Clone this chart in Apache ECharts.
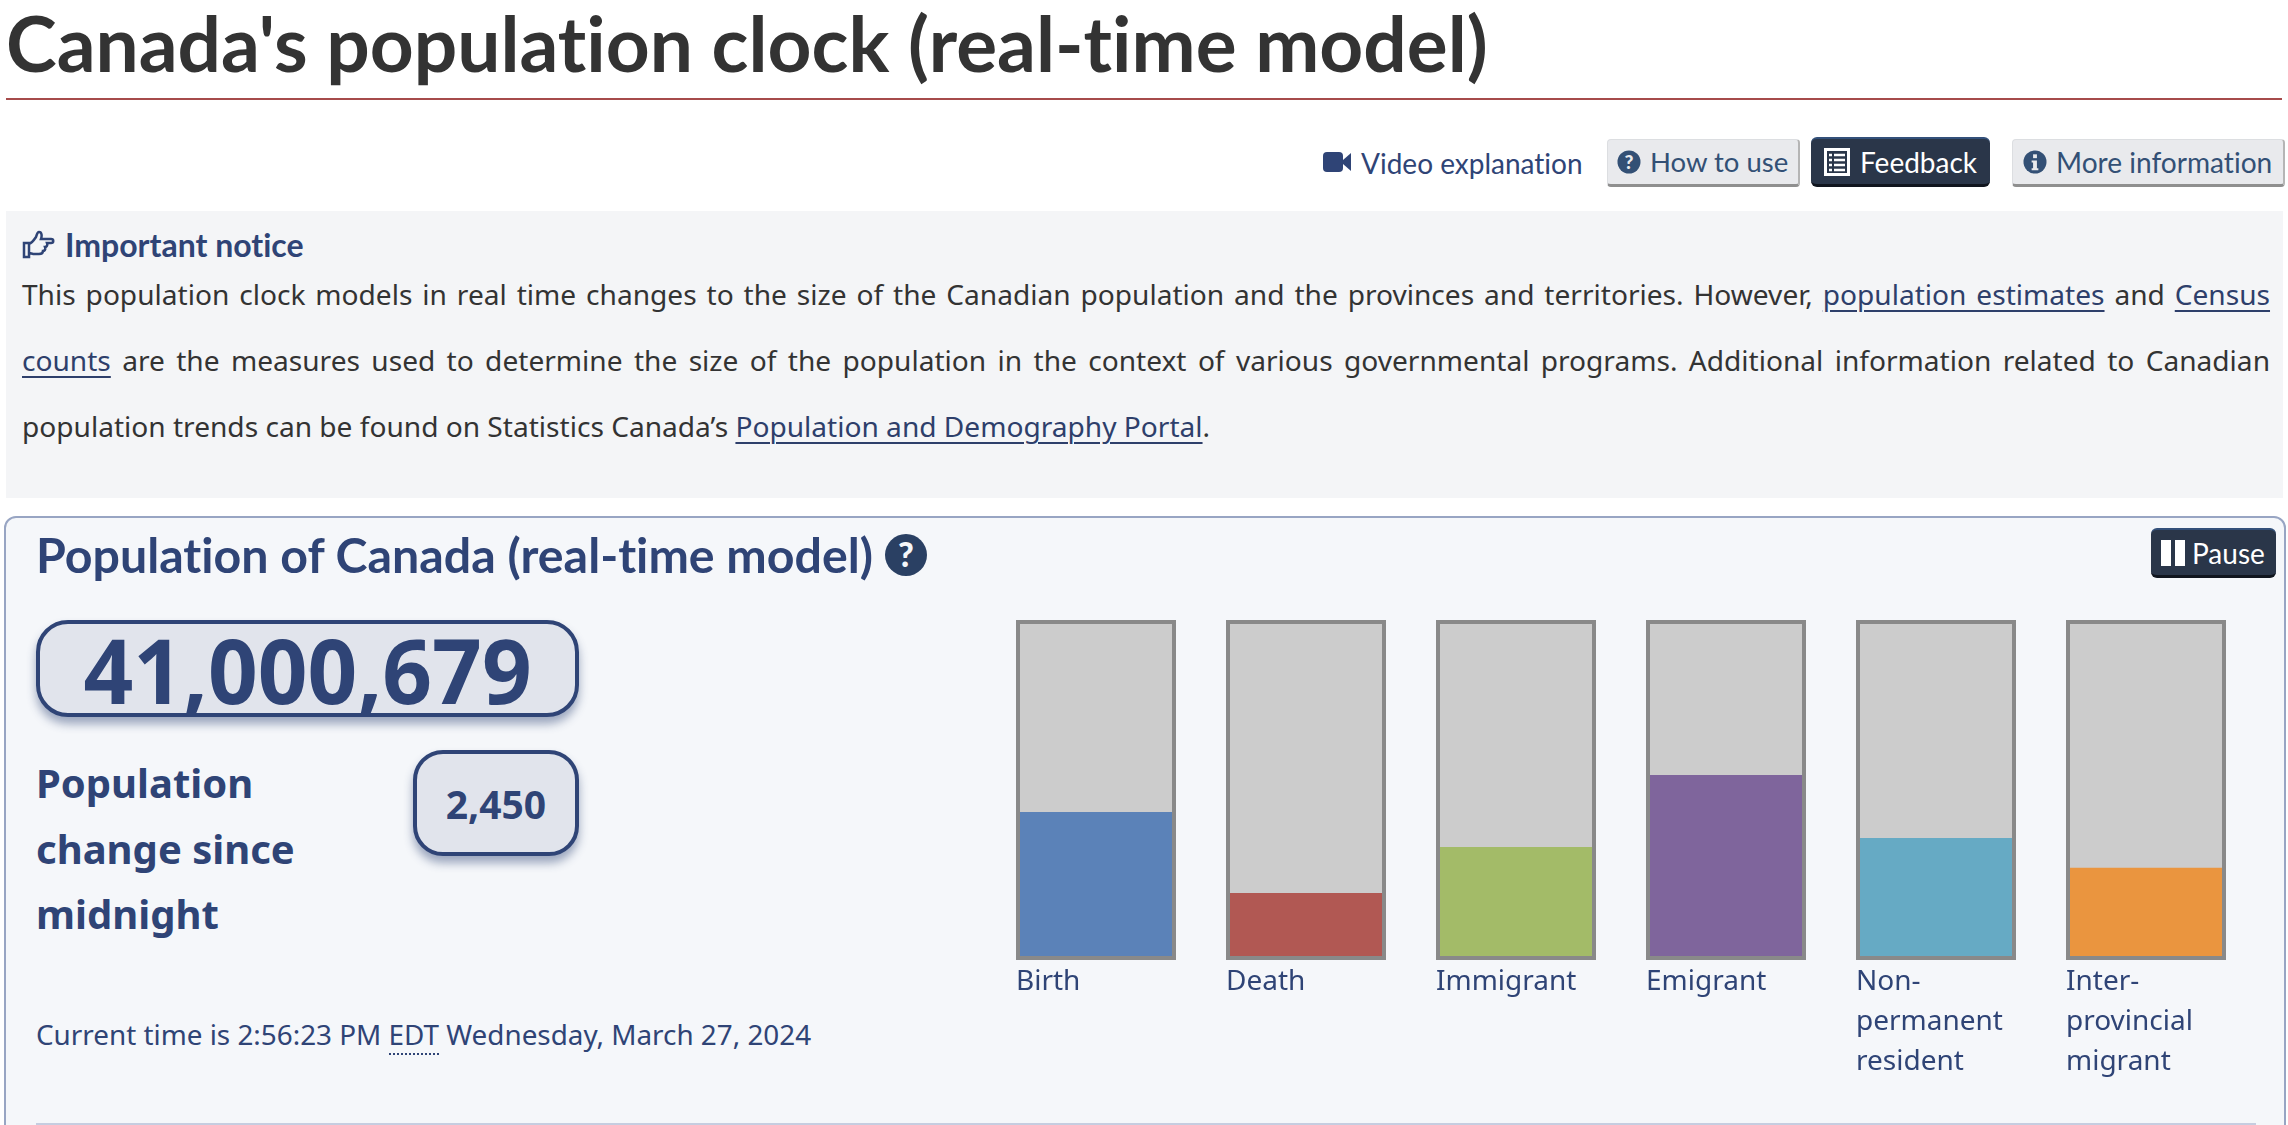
<!DOCTYPE html>
<html lang="en">
<head>
<meta charset="utf-8">
<title>Canada's population clock (real-time model)</title>
<script src="https://cdn.jsdelivr.net/npm/echarts@6/dist/echarts.min.js"></script>
<style>
html,body{margin:0;padding:0;width:2288px;height:1125px;overflow:hidden;background:#fff;}
body{position:relative;font-family:"Noto Sans",sans-serif;color:#333;}
*{font-variant-ligatures:none !important;font-feature-settings:"liga" 0,"clig" 0 !important;}
.a{position:absolute;white-space:nowrap;}
.vc{transform:translateY(-50%);}
.lato{font-family:Lato,sans-serif;}
h1{margin:0;left:6px;top:42px;font:700 76.6px/1 Lato,sans-serif;color:#333;transform:translateY(-50%);}
.rule{left:6px;top:98px;width:2276px;height:2px;background:#a64b4b;}
.btn{box-sizing:border-box;display:flex;align-items:center;border-radius:4px;font:400 28px/1 Lato,sans-serif;}
.btn svg{flex-shrink:0;}
.light{background:#e9eaed;color:#335075;border:1px solid #dcdee1;border-bottom:3px solid #8f8f8f;border-right:2px solid #b5b5b5;}
.dark{background:#2a3649;color:#fff;border-top:2px solid #33507a;border-bottom:3px solid #10151e;border-radius:6px;}
.notice{left:6px;top:211px;width:2277px;height:287px;background:#f4f5f7;}
.ntitle{left:65px;top:245px;font:700 32px/1 Lato,sans-serif;color:#2f4476;}
.pl{left:22px;width:2248px;font-size:28.1px;line-height:40px;white-space:normal;text-align:justify;text-align-last:justify;color:#333;}
.pl a{color:#2e3f6b;text-decoration:underline;text-underline-offset:5px;text-decoration-thickness:2px;}
.panel{box-sizing:border-box;left:4px;top:516px;width:2282px;height:640px;background:#f5f7fa;border:2px solid #98a5c3;border-radius:12px;}
.phead{left:36px;top:554px;font:700 48.3px/1 Lato,sans-serif;color:#2f4476;}
.box{box-sizing:border-box;background:#e1e4ec;border:4px solid #2f4476;box-shadow:0 7px 10px rgba(47,68,118,.45);display:flex;align-items:center;justify-content:center;font-weight:700;color:#2f4476;}
.lbl{left:36px;font-weight:700;font-size:40px;line-height:1;color:#2f4476;}
.time{left:36px;top:1034px;font-size:27.85px;color:#2f4476;}
.time abbr{text-decoration:none;border-bottom:2px dotted #2f4476;}
.bottom{left:36px;top:1123px;width:2220px;height:2px;background:#c6cde0;}
#chart{position:absolute;left:991px;top:600px;width:1260px;height:500px;}
</style>
</head>
<body>
<h1 class="a">Canada's population clock (real-time model)</h1>
<div class="a rule"></div>

<svg class="a" style="left:1323px;top:150px" width="29" height="24" viewBox="0 0 29 24"><rect x="0" y="2" width="20" height="20" rx="4" fill="#2f4476"/><path d="M20 10 L28 3 V21 L20 14Z" fill="#2f4476"/></svg>
<div class="a vc lato" style="left:1361px;top:163px;font-size:28px;color:#2f4476">Video explanation</div>

<div class="a btn light" style="left:1607px;top:139px;width:193px;height:48px;padding-left:9px;font-size:27.5px">
<svg width="24" height="24" viewBox="0 0 25 25" style="margin-right:9px"><circle cx="12.5" cy="12.5" r="12" fill="#335075"/><text x="12.500" y="19.500" text-anchor="middle" font-family="Lato" font-weight="900" font-size="20" fill="#e9eaed">?</text></svg>How to use</div>
<div class="a btn dark" style="left:1811px;top:137px;width:179px;height:50px;padding-left:13px">
<svg width="26" height="28" viewBox="0 0 26 28" style="margin-right:10px"><rect x="1.500" y="1.500" width="23" height="25" fill="none" stroke="#fff" stroke-width="3"/><path d="M5 7h3M10 7h11M5 12h3M10 12h11M5 17h3M10 17h11M5 22h3M10 22h11" stroke="#fff" stroke-width="2.500"/></svg>Feedback</div>
<div class="a btn light" style="left:2012px;top:139px;width:273px;height:48px;padding-left:10px;font-size:28.1px">
<svg width="24" height="24" viewBox="0 0 25 25" style="margin-right:9px"><circle cx="12.5" cy="12.5" r="12" fill="#335075"/><rect x="10.500" y="4.500" width="4" height="4" fill="#e9eaed"/><path d="M9 11h5.500v8H16v2H9v-2h1.500v-6H9z" fill="#e9eaed"/></svg>More information</div>

<div class="a notice"></div>
<svg class="a" style="left:22px;top:230px" width="33" height="30" viewBox="0 0 33 30"><path d="M2 13h5v14H2zM7 14c3-1 5-4 7-7 1-2 1-5 3-5 3 0 3 4 2 7h10c3 0 3 4 0 4h-4c1 3-1 4-2 4 1 3-1 4-2 4 0 3-2 3-4 3h-4c-3 0-4-1-6-1" fill="none" stroke="#2f4476" stroke-width="2.500"/></svg>
<div class="a vc ntitle">Important notice</div>
<div class="a vc pl" style="top:294px">This population clock models in real time changes to the size of the Canadian population and the provinces and territories. However, <a>population estimates</a> and <a>Census</a></div>
<div class="a vc pl" style="top:360px"><a>counts</a> are the measures used to determine the size of the population in the context of various governmental programs. Additional information related to Canadian</div>
<div class="a vc pl" style="top:426px;text-align-last:left">population trends can be found on Statistics Canada’s <a>Population and Demography Portal</a>.</div>

<div class="a panel"></div>
<div class="a vc phead">Population of Canada (real-time model)</div>
<svg class="a" style="left:885px;top:534px" width="42" height="42" viewBox="0 0 42 42"><circle cx="21" cy="21" r="21" fill="#2a4063"/><text x="21" y="33" text-anchor="middle" font-family="Lato" font-weight="900" font-size="34" fill="#f5f7fa">?</text></svg>
<div class="a btn dark" style="left:2151px;top:528px;width:125px;height:50px;padding-left:10px">
<svg width="25" height="26" viewBox="0 0 25 26" style="margin-right:6px"><rect x="0" y="0" width="10" height="26" fill="#fff"/><rect x="14" y="0" width="10" height="26" fill="#fff"/></svg>Pause</div>

<div class="a box" style="left:36px;top:620px;width:543px;height:97px;border-radius:32px;font-size:90px"><span style="display:inline-block;transform:scaleX(.968)">41,000,679</span></div>
<div class="a box" style="left:413px;top:750px;width:166px;height:106px;border-radius:30px;font-size:39px">2,450</div>
<div class="a vc lbl" style="top:783px">Population</div>
<div class="a vc lbl" style="top:849px">change since</div>
<div class="a vc lbl" style="top:914px">midnight</div>
<div class="a vc time">Current time is 2:56:23 PM <abbr>EDT</abbr> Wednesday, March 27, 2024</div>
<div class="a bottom"></div>

<div id="chart"></div>
<script>
const categories = ["Birth", "Death", "Immigrant", "Emigrant", "Non-\npermanent\nresident", "Inter-\nprovincial\nmigrant"];
const fillValues = [43.5, 19.7, 33.2, 54.4, 35.9, 27.1];
const fillColors = ["#5b82b8", "#b15853", "#a3bb68", "#7f659c", "#66aac4", "#ea953f"];
const fullScale = [100, 100, 100, 100, 100, 100];

const chart = echarts.init(document.getElementById("chart"), null, {renderer: "canvas"});
chart.setOption({
  animation: false,
  backgroundColor: "transparent",
  grid: {left: 0, top: 20, width: 1260, height: 340, containLabel: false},
  xAxis: {
    type: "category",
    data: categories,
    axisLine: {show: false},
    axisTick: {show: false},
    axisLabel: {
      interval: 0,
      margin: 2,
      formatter: function (v) {
        return v.split("\n").map(function (s) { return "{t|" + s + "}"; }).join("\n");
      },
      rich: {
        t: {width: 160, align: "left", fontFamily: "Noto Sans", fontSize: 28, lineHeight: 40, color: "#2f4476"}
      }
    }
  },
  yAxis: {type: "value", min: 0, max: 100, show: false, splitLine: {show: false}},
  series: [
    {
      name: "Share",
      type: "bar",
      barWidth: 160,
      barGap: "-100%",
      z: 2,
      showBackground: true,
      backgroundStyle: {color: "#cccccc"},
      data: fillValues.map(function (v, i) { return {value: v, itemStyle: {color: fillColors[i]}}; })
    },
    {
      name: "Frame",
      type: "bar",
      barWidth: 160,
      barGap: "-100%",
      z: 3,
      silent: true,
      itemStyle: {color: "transparent", borderColor: "#898989", borderWidth: 4},
      data: fullScale
    }
  ]
});
</script>
</body>
</html>
